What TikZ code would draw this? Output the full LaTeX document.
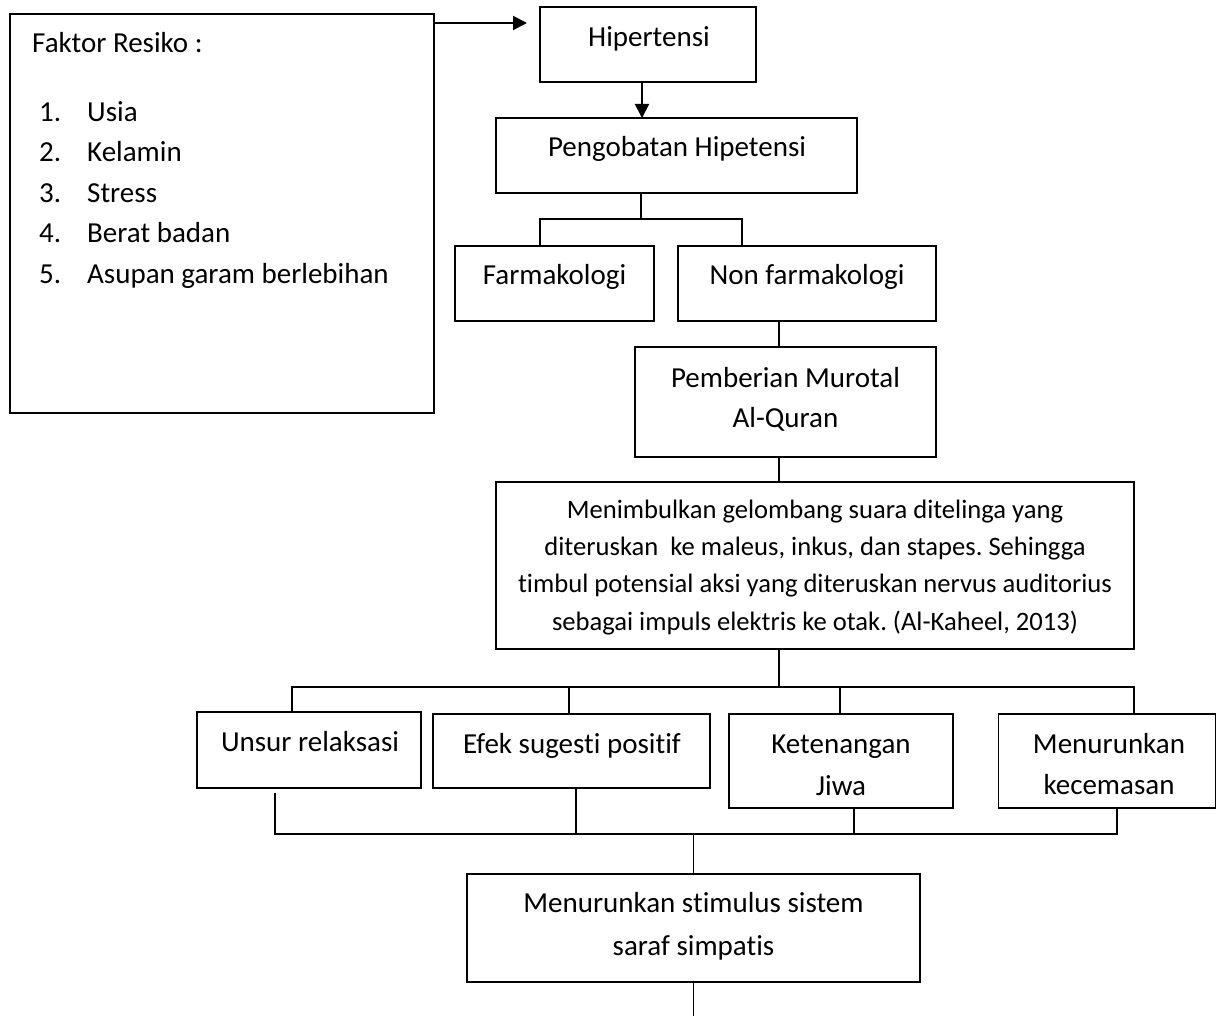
\documentclass[tikz,border=0pt]{standalone}
\usepackage{fontspec}
\setmainfont{Carlito}[Ligatures=NoCommon]
\usetikzlibrary{arrows.meta}
\frenchspacing
\begin{document}
\begin{tikzpicture}[x=1pt,y=-1pt,
  box/.style={draw, line width=1.8pt, inner sep=0pt, outer sep=0pt},
  lbl/.style={font=\fontsize{29}{35}\selectfont, inner sep=0pt, anchor=base},
  sml/.style={font=\fontsize{26.6}{32}\selectfont, inner sep=0pt, anchor=base},
  con/.style={line width=1.7pt},
  arr/.style={line width=2pt, -{Triangle[length=14pt,width=14pt]}}]
\useasboundingbox (0,0) rectangle (1217,1016);

% boxes
\node[box, minimum width=424pt, minimum height=399pt] (fak) at (222,213.5) {};
\node[box, minimum width=216pt, minimum height=75pt] (hip) at (648,44.5) {};
\node[box, minimum width=361pt, minimum height=75pt] (pen) at (676.5,155.5) {};
\node[box, minimum width=199pt, minimum height=75pt] (far) at (554.5,283.5) {};
\node[box, minimum width=258pt, minimum height=75pt] (non) at (807,283.5) {};
\node[box, minimum width=301pt, minimum height=110pt] (pem) at (785.5,402) {};
\node[box, minimum width=638pt, minimum height=167pt] (men) at (815,565.5) {};
\node[box, minimum width=224pt, minimum height=76pt] (uns) at (309,750) {};
\node[box, minimum width=277pt, minimum height=74pt] (efe) at (571.5,751) {};
\node[box, minimum width=224pt, minimum height=94pt] (ket) at (841,761) {};
\node[box, minimum width=217pt, minimum height=94pt] (kec) at (1107,761) {};
\node[box, minimum width=453pt, minimum height=108pt] (sti) at (693.5,928) {};

% texts
\node[lbl, anchor=base west] (tf) at (32,53) {Faktor Resiko :};
\node[lbl, anchor=base west] (n1) at (39,121.5) {1.};
\node[lbl, anchor=base west] (i1) at (87,121.5) {Usia};
\node[lbl, anchor=base west] (n2) at (39,162) {2.};
\node[lbl, anchor=base west] (i2) at (87,162) {Kelamin};
\node[lbl, anchor=base west] (n3) at (39,202.5) {3.};
\node[lbl, anchor=base west] (i3) at (87,202.5) {Stress};
\node[lbl, anchor=base west] (n4) at (39,243) {4.};
\node[lbl, anchor=base west] (i4) at (87,243) {Berat badan};
\node[lbl, anchor=base west] (n5) at (39,283.5) {5.};
\node[lbl, anchor=base west] (i5) at (87,283.5) {Asupan garam berlebihan};

\node[lbl] (th) at (649,47) {Hipertensi};
\node[lbl] (tp) at (677,157) {Pengobatan Hipetensi};
\node[lbl] (tfa) at (554.5,284) {Farmakologi};
\node[lbl] (tno) at (807,284) {Non farmakologi};
\node[lbl] (tm1) at (785.5,387) {Pemberian Murotal};
\node[lbl] (tm2) at (785.5,427.5) {Al-Quran};
\node[sml] (tg1) at (815,518) {Menimbulkan gelombang suara ditelinga yang};
\node[sml] (tg2) at (815,555) {diteruskan\ \ ke maleus, inkus, dan stapes. Sehingga};
\node[sml] (tg3) at (815,592.5) {timbul potensial aksi yang diteruskan nervus auditorius};
\node[sml] (tg4) at (815,630) {sebagai impuls elektris ke otak. (Al-Kaheel, 2013)};
\node[lbl] (tu) at (310,751) {Unsur relaksasi};
\node[lbl] (te) at (572,753) {Efek sugesti positif};
\node[lbl] (tk1) at (841,753) {Ketenangan};
\node[lbl] (tk2) at (841,795) {Jiwa};
\node[lbl] (tc1) at (1109,753) {Menurunkan};
\node[lbl] (tc2) at (1109,794) {kecemasan};
\node[lbl] (ts1) at (693.5,912.5) {Menurunkan stimulus sistem};
\node[lbl] (ts2) at (693.5,955) {saraf simpatis};

% connectors
\coordinate (a1) at (434,23);
\draw[arr, shorten >=13pt] (a1) -- (a1 -| hip.west);
\coordinate (a2) at (642,100);
\draw[arr] (a2 |- hip.south) -- (a2 |- pen.north);

\coordinate (j1) at (641,219);
\coordinate (bl) at (540,219);
\coordinate (br) at (742,219);
\draw[con] (j1 |- pen.south) -- (j1);
\draw[con] (bl |- far.north) -- (bl) -- (br) -- (br |- non.north);

\coordinate (c2) at (779,334);
\draw[con] (c2 |- non.south) -- (c2 |- pem.north);
\draw[con] (c2 |- pem.south) -- (c2 |- men.north);

\coordinate (h1) at (779,687);
\coordinate (h1l) at (292,687);
\coordinate (h1b) at (569,687);
\coordinate (h1c) at (840,687);
\coordinate (h1r) at (1134,687);
\draw[con] (h1 |- men.south) -- (h1);
\draw[con] (h1l |- uns.north) -- (h1l) -- (h1r) -- (h1r |- kec.north);
\draw[con] (h1b) -- (h1b |- efe.north);
\draw[con] (h1c) -- (h1c |- ket.north);

\coordinate (h2l) at (275,834);
\coordinate (h2b) at (576,834);
\coordinate (h2c) at (854,834);
\coordinate (h2r) at (1117,834);
\coordinate (h2) at (693.5,834);
\coordinate (us) at (275,793);
\draw[con] (us) -- (h2l) -- (h2r) -- (h2r |- kec.south);
\draw[con] (h2b |- efe.south) -- (h2b);
\draw[con] (h2c |- ket.south) -- (h2c);
\draw[con] (h2) -- (h2 |- sti.north);
\coordinate (endc) at (693.5,1016);
\draw[con] (sti.south) -- (endc);
\end{tikzpicture}
\end{document}
